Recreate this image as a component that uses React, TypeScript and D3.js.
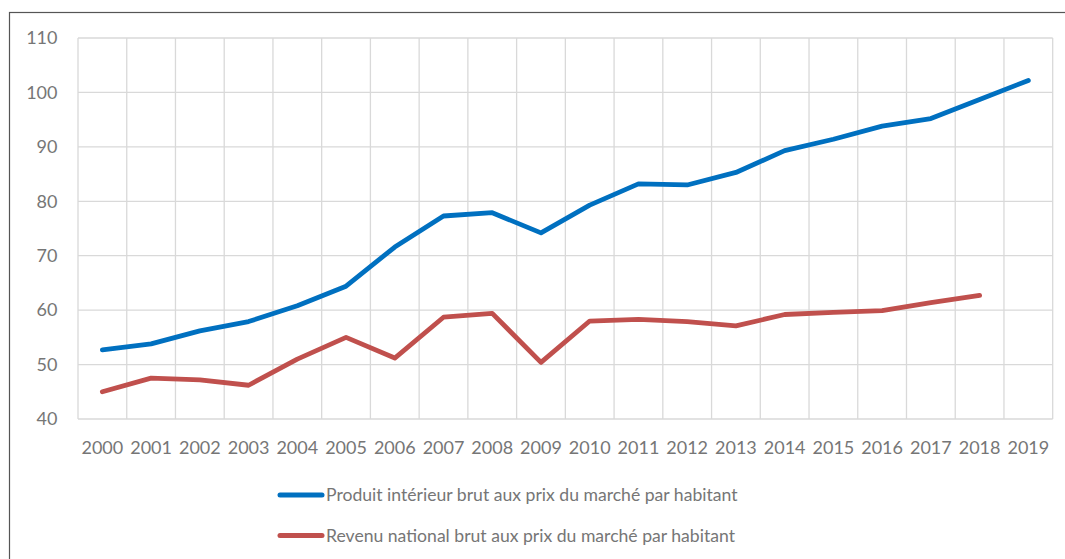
import React from "react";
import * as d3 from "d3";

const years = ["2000","2001","2002","2003","2004","2005","2006","2007","2008","2009","2010","2011","2012","2013","2014","2015","2016","2017","2018","2019"];
const pib = [52.7,53.8,56.2,57.9,60.8,64.4,71.6,77.3,77.9,74.2,79.3,83.2,83.0,85.3,89.3,91.4,93.8,95.2,98.7,102.2];
const rnb = [45.0,47.5,47.2,46.2,51.0,55.0,51.2,58.7,59.4,50.4,58.0,58.3,57.9,57.1,59.2,59.6,59.9,61.4,62.7];
const yTicks = [40,50,60,70,80,90,100,110];
const seriesNames = [
  "Produit intérieur brut aux prix du marché par habitant",
  "Revenu national brut aux prix du marché par habitant",
];
const colors = ["#0070C0", "#C0504D"];

export default function App() {
  const W = 1065, H = 559;
  const left = 78, right = 1052.7, top = 38, bottom = 419;
  const x = d3.scaleBand<string>().domain(years).range([left, right]);
  const y = d3.scaleLinear().domain([40, 110]).range([bottom, top]);
  const line = d3.line<number>()
    .x((_, i) => (x(years[i]) as number) + x.bandwidth() / 2)
    .y((d) => y(d));
  const font = "Lato, 'Open Sans', sans-serif";
  const textColor = "#767676";
  const grid = "#d9d9d9";
  const data = [pib, rnb];
  return (
    <div style={{ position: "absolute", left: 0, top: 0 }}>
      <svg width={W} height={H} style={{ display: "block" }}>
        <rect x={0} y={0} width={W} height={H} fill="#fff" />
        <rect x={9.5} y={12.5} width={W + 10} height={H + 10} fill="none" stroke="#555" strokeWidth={1.2} />
        {yTicks.map((t) => (
          <line key={"h" + t} x1={left} x2={right} y1={y(t)} y2={y(t)} stroke={grid} strokeWidth={1.3} />
        ))}
        {years.map((yr) => (
          <line key={"v" + yr} x1={x(yr)} x2={x(yr)} y1={top} y2={bottom} stroke={grid} strokeWidth={1.3} />
        ))}
        <line x1={right} x2={right} y1={top} y2={bottom} stroke={grid} strokeWidth={1.3} />
        {yTicks.map((t) => (
          <text key={"yl" + t} x={57.5} y={y(t)} dy="0.35em" textAnchor="end" fontFamily={font} fontSize={18} fill={textColor}>{t}</text>
        ))}
        {years.map((yr) => (
          <text key={"xl" + yr} x={(x(yr) as number) + x.bandwidth() / 2} y={454} textAnchor="middle" fontFamily={font} fontSize={18} fill={textColor}>{yr}</text>
        ))}
        {data.map((d, i) => (
          <path key={"s" + i} d={line(d) as string} fill="none" stroke={colors[i]} strokeWidth={4.8} strokeLinejoin="round" strokeLinecap="round" />
        ))}
        {seriesNames.map((n, i) => {
          const ly = [495, 535.5][i];
          return (
            <g key={"lg" + i}>
              <line x1={280} x2={322} y1={ly} y2={ly} stroke={colors[i]} strokeWidth={5} strokeLinecap="round" />
              <text x={326} y={ly} dy="0.35em" fontFamily={font} fontSize={17.6} fill={textColor}>{n}</text>
            </g>
          );
        })}
      </svg>
    </div>
  );
}
